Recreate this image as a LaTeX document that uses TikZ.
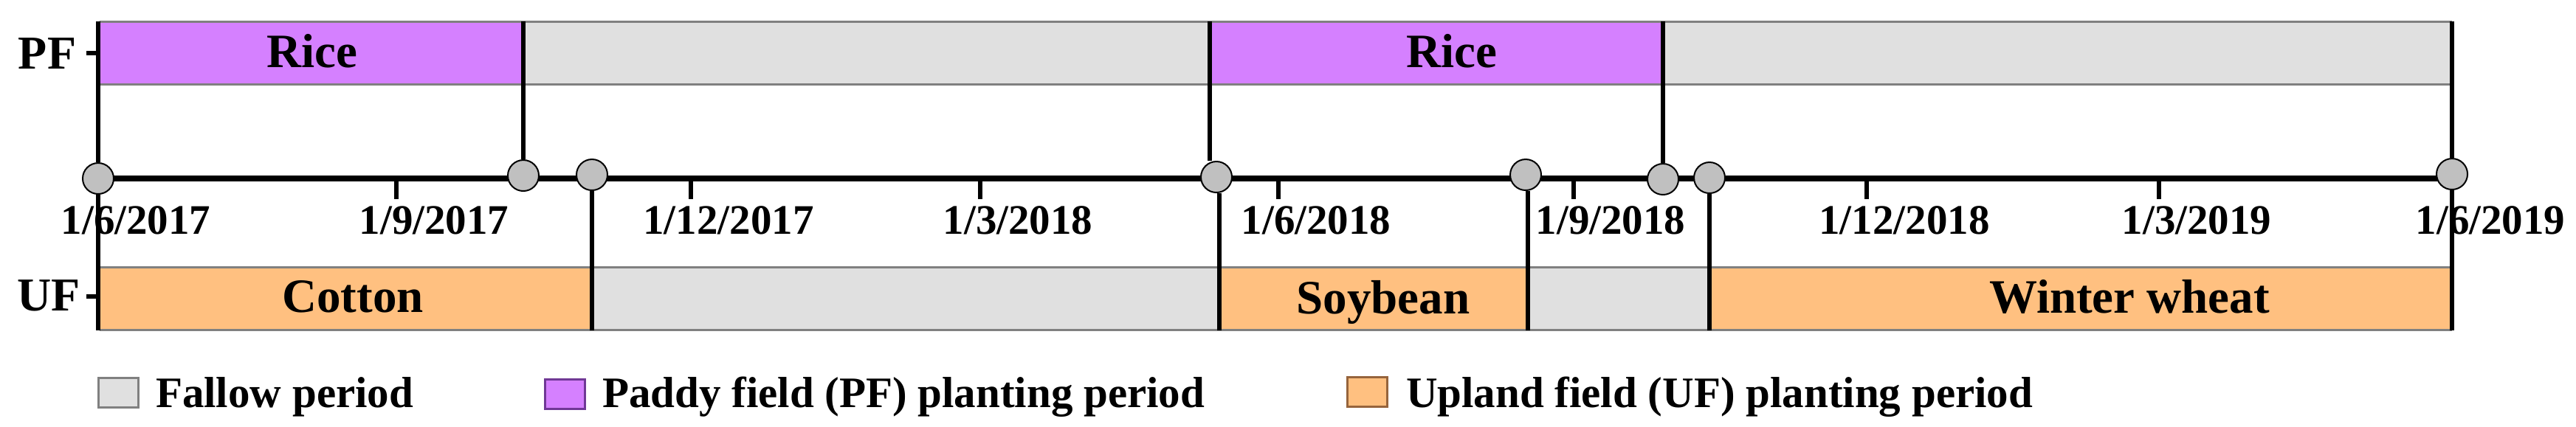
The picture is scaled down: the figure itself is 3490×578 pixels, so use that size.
\documentclass[tikz,border=0pt]{standalone}
\usepackage{fontspec}
\setmainfont{Liberation Serif}
\usetikzlibrary{backgrounds}
\definecolor{rice}{RGB}{213,128,255}
\definecolor{upland}{RGB}{255,192,128}
\definecolor{fallow}{RGB}{224,224,224}
\definecolor{edgegray}{RGB}{128,128,128}
\definecolor{evgray}{RGB}{192,192,192}
\definecolor{purpleedge}{RGB}{112,56,150}
\definecolor{orangeedge}{RGB}{150,100,60}
\begin{document}
\begin{tikzpicture}[x=0.2pt,y=-0.2pt,
  barlabel/.style={font=\fontsize{13}{15}\selectfont\bfseries, anchor=base, inner sep=0pt},
  rowlabel/.style={font=\fontsize{12.8}{15}\selectfont\bfseries, anchor=base, inner sep=0pt},
  datelabel/.style={font=\fontsize{11.4}{13}\selectfont\bfseries, anchor=base, inner sep=0pt},
  leglabel/.style={font=\fontsize{11.8}{14}\selectfont\bfseries, anchor=base west, inner sep=0pt},
  rowedge/.style={draw=edgegray, line width=0.6pt},
  conn/.style={draw=black, line width=1.15pt},
  axisline/.style={draw=black, line width=1.5pt},
  tickmark/.style={draw=black, line width=1.2pt},
  event/.style={circle, fill=evgray, draw=black, line width=0.4pt, minimum size=8.4pt, inner sep=0pt},
  legbox/.style={minimum width=10.8pt, minimum height=8pt, inner sep=0pt, line width=0.6pt}
]
\useasboundingbox (0,0) rectangle (3490,578);

% ---------- PF row ----------
\fill[rice]   (135,30) rectangle (711,114);
\fill[fallow] (711,30) rectangle (1639,114);
\fill[rice]   (1639,30) rectangle (2250,114);
\fill[fallow] (2250,30) rectangle (3322,114);
\draw[rowedge] (135,29.5) -- (3322,29.5);
\draw[rowedge] (135,114.5) -- (3322,114.5);

% ---------- UF row ----------
\fill[upland] (135,363) rectangle (802,447);
\fill[fallow] (802,363) rectangle (1652,447);
\fill[upland] (1652,363) rectangle (2070,447);
\fill[fallow] (2070,363) rectangle (2317,447);
\fill[upland] (2317,363) rectangle (3322,447);
\draw[rowedge] (135,362.5) -- (3322,362.5);
\draw[rowedge] (135,447.5) -- (3322,447.5);

\coordinate (pftop) at (0,29);
\coordinate (ufbot) at (0,448);

% ---------- row labels ----------
\node[rowlabel] (pf) at (64,93) {PF};
\node[rowlabel] (uf) at (66,421) {UF};
\coordinate (pftick) at (117,72);
\coordinate (uftick) at (117,402);
\draw[conn] (pftick) -- ++(18,0);
\draw[conn] (uftick) -- ++(18,0);

% ---------- crop labels ----------
\node[barlabel] (rice1) at (423,91) {Rice};
\node[barlabel] (rice2) at (1967,91) {Rice};
\node[barlabel] (cotton) at (478,423) {Cotton};
\node[barlabel] (soy) at (1874,425) {Soybean};
\node[barlabel] (wheat) at (2885,424) {Winter wheat};

% ---------- events ----------
\node[event] (e1) at (133,242) {};
\node[event] (e2) at (709,238) {};
\node[event] (e3) at (802,237) {};
\node[event] (e4) at (1648,240) {};
\node[event] (e5) at (2067,237) {};
\node[event] (e6) at (2253,243) {};
\node[event] (e7) at (2316,241) {};
\node[event] (e8) at (3322,236) {};

\begin{pgfonlayer}{background}
  \draw[axisline] (e1.center) -- (e1.center -| e8.center);
\end{pgfonlayer}

% connectors
\draw[conn] (e1.north) -- (e1.north |- pftop);
\draw[conn] (e1.south) -- (e1.south |- ufbot);
\draw[conn] (e2.north) -- (e2.north |- pftop);
\draw[conn] (e3.south) -- (e3.south |- ufbot);
\draw[conn] ([xshift=-1.8pt]e4.north) -- ([xshift=-1.8pt]e4.north |- pftop);
\draw[conn] ([xshift=0.8pt]e4.south) -- ([xshift=0.8pt]e4.south |- ufbot);
\draw[conn] ([xshift=0.6pt]e5.south) -- ([xshift=0.6pt]e5.south |- ufbot);
\draw[conn] (e6.north) -- (e6.north |- pftop);
\draw[conn] (e7.south) -- (e7.south |- ufbot);
\draw[conn] (e8.north) -- (e8.north |- pftop);
\draw[conn] (e8.south) -- (e8.south |- ufbot);

% ---------- ticks and dates ----------
\foreach \t/\n in {537/t2, 936/t3, 1328/t4, 1732/t5, 2132/t6, 2529/t7, 2925/t8}{
  \coordinate (\n) at (\t,242);
  \draw[tickmark] (\n) -- ++(0,28);
}
\node[datelabel] (d1) at (184,317) {1/6/2017};
\node[datelabel] (d2) at (588,317) {1/9/2017};
\node[datelabel] (d3) at (987,317) {1/12/2017};
\node[datelabel] (d4) at (1379,317) {1/3/2018};
\node[datelabel] (d5) at (1783,317) {1/6/2018};
\node[datelabel] (d6) at (2182,317) {1/9/2018};
\node[datelabel] (d7) at (2580,317) {1/12/2018};
\node[datelabel] (d8) at (2976,317) {1/3/2019};
\node[datelabel] (d9) at (3374,317) {1/6/2019};

% ---------- legend ----------
\node[legbox, draw=edgegray, fill=fallow] (lg1) at (160,532.5) {};
\node[leglabel] (lt1) at (210,552) {Fallow period};
\node[legbox, draw=purpleedge, fill=rice] (lg2) at (765.5,534) {};
\node[leglabel] (lt2) at (815,552) {Paddy field (PF) planting period};
\node[legbox, draw=orangeedge, fill=upland] (lg3) at (1852.5,531) {};
\node[leglabel] (lt3) at (1904,552) {Upland field (UF) planting period};
\end{tikzpicture}
\end{document}
